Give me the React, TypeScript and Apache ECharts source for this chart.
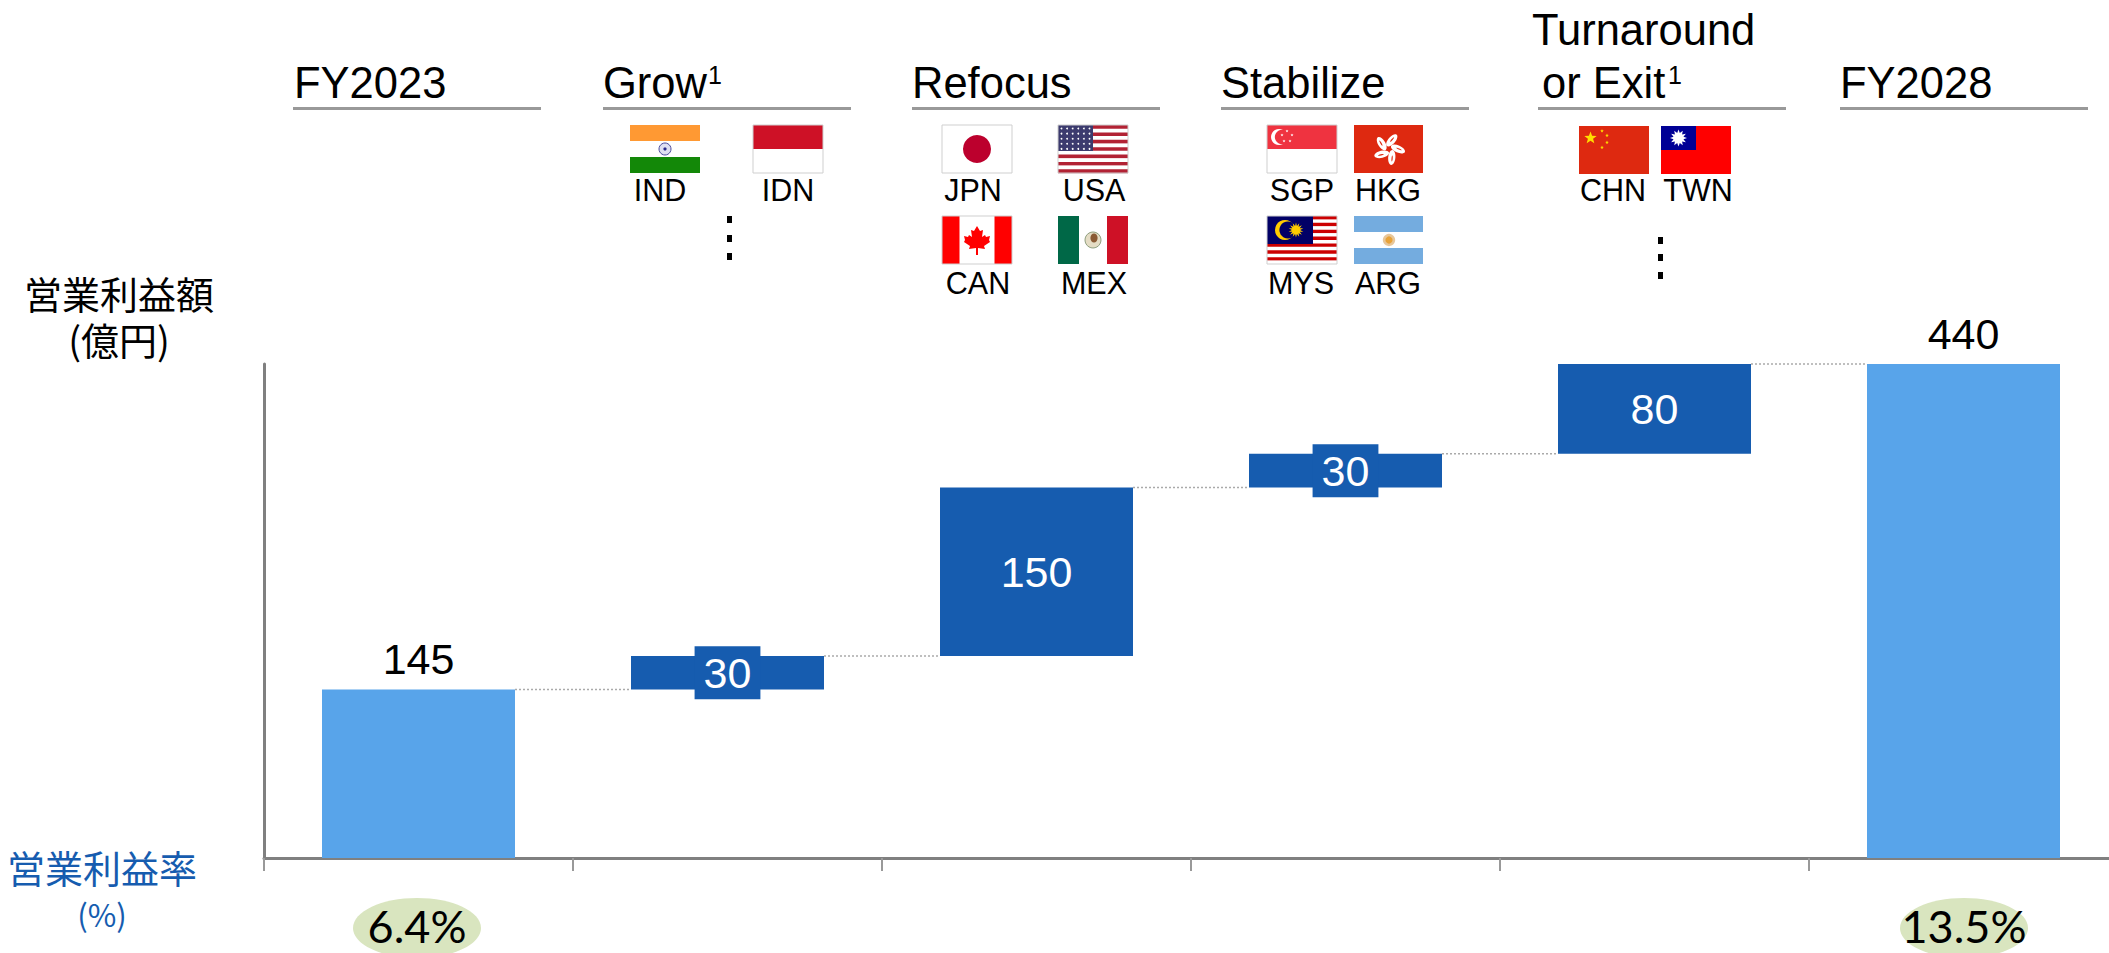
import React, { useEffect, useRef } from "react";
import * as echarts from "echarts";

const categories = ["FY2023", "Grow", "Refocus", "Stabilize", "Turnaround or Exit", "FY2028"];
// Bar heights as drawn in the picture (the first bar is drawn slightly taller than its printed label).
const drawnHeights = [150, 30, 150, 30, 80, 440];
const floatBases = [0, 150, 180, 330, 360, 0];
const printedLabels = ["145", "30", "150", "30", "80", "440"];
const connectorLevels = [150, 180, 330, 360, 440];
const marginLabels = ["6.4%", "13.5%"];
const LIGHT = "#58A4EA";
const DARK = "#165CAF";
const GREY = "#999999";
const SANS = '"Liberation Sans", Arial, sans-serif';
const CJK = '"Noto Sans CJK JP", sans-serif';
const BAR_W = 193;

const txt = (text: string, x: number, y: number, size: number, o: any = {}) => ({
  type: "text", x, y, silent: true, z: 10,
  style: {
    text, fontSize: size, fontFamily: o.font || SANS, fill: o.fill || "#000",
    fontWeight: "normal",
    ...(o.lineHeight ? { lineHeight: o.lineHeight } : {}),
    align: o.align || "left", textAlign: o.align || "left",
    verticalAlign: "middle", textVerticalAlign: "middle",
  },
});
const R = (x: number, y: number, width: number, height: number, fill: string) => ({
  type: "rect", silent: true, shape: { x, y, width, height }, style: { fill },
});
const C = (cx: number, cy: number, r: number, fill: string) => ({
  type: "circle", silent: true, shape: { cx, cy, r }, style: { fill },
});
const E = (cx: number, cy: number, rx: number, ry: number, fill: string, rotation = 0) => ({
  type: "ellipse", silent: true, x: cx, y: cy, rotation, shape: { cx: 0, cy: 0, rx, ry }, style: { fill },
});
const star = (cx: number, cy: number, r: number, fill: string, n = 5, inner = 0.42, rot = -Math.PI / 2) => {
  const pts: number[][] = [];
  for (let i = 0; i < n * 2; i++) {
    const a = rot + (i * Math.PI) / n;
    const rr = i % 2 ? r * inner : r;
    pts.push([cx + rr * Math.cos(a), cy + rr * Math.sin(a)]);
  }
  return { type: "polygon", silent: true, shape: { points: pts }, style: { fill } };
};
const frame = () => ({
  type: "rect", silent: true, shape: { x: 0, y: 0, width: 70, height: 48 },
  style: { fill: "none", stroke: "#cfcfcf", lineWidth: 1 },
});
const flag = (x: number, y: number, children: any[]) => ({ type: "group", x, y, silent: true, children });

const stripes = (n: number, hTotal: number, a: string, b: string) =>
  Array.from({ length: n }, (_, i) => R(0, (i * hTotal) / n, 70, hTotal / n + 0.2, i % 2 ? b : a));

const usaDots = () => {
  const out: any[] = [];
  for (let r = 0; r < 5; r++) for (let c = 0; c < 6; c++) out.push(C(3.5 + c * 5.6, 3.5 + r * 5.1, 0.9, "#fff"));
  return out;
};

const flagsGraphic = (): any[] => [
  flag(630, 125, [R(0, 0, 70, 16, "#FF9933"), R(0, 16, 70, 16, "#fff"), R(0, 32, 70, 16, "#138808"),
    { type: "circle", silent: true, shape: { cx: 35, cy: 24, r: 6 }, style: { fill: "#dfe0f2", stroke: "#4a4a9c", lineWidth: 1 } }, C(35, 24, 1.6, "#2a2a8c")]),
  flag(753, 125, [R(0, 0, 70, 24, "#CE1126"), R(0, 24, 70, 24, "#fff"), frame()]),
  flag(942, 125, [R(0, 0, 70, 48, "#fff"), C(35, 24, 14, "#BC002D"), frame()]),
  flag(1058, 125, [...stripes(13, 48, "#B22234", "#fff"), R(0, 0, 35, 26, "#3C3B6E"), ...usaDots(), frame()]),
  flag(942, 216, [R(0, 0, 70, 48, "#fff"), R(0, 0, 17.5, 48, "#FF0000"), R(52.5, 0, 17.5, 48, "#FF0000"),
    { type: "polygon", silent: true, shape: { points: [[35,10],[38,15],[41,14],[40,21],[43,19],[44,21],[48,20],[47,24],[48,26],[42,30],[43,33],[36,32],[36,39],[34,39],[34,32],[27,33],[28,30],[22,26],[23,24],[22,20],[26,21],[27,19],[30,21],[29,14],[32,15]] }, style: { fill: "#FF0000" } }, frame()]),
  flag(1058, 216, [R(0, 0, 21, 48, "#006847"), R(21, 0, 28, 48, "#fff"), R(49, 0, 21, 48, "#CE1126"),
    { type: "circle", silent: true, shape: { cx: 35, cy: 24, r: 8 }, style: { fill: "#e4dcc4", stroke: "#8f9f7f", lineWidth: 1 } }, E(36, 22, 3.6, 4.5, "#8a5a34")]),
  flag(1267, 125, [R(0, 0, 70, 24, "#EF3340"), R(0, 24, 70, 24, "#fff"), C(12, 12, 8, "#fff"), C(15, 12, 7.2, "#EF3340"),
    star(20, 6, 1.6, "#fff"), star(25, 10, 1.6, "#fff"), star(23, 16, 1.6, "#fff"), star(17, 16, 1.6, "#fff"), star(15, 10, 1.6, "#fff"), frame()]),
  flag(1354, 125, [R(0, 0, 69, 48, "#DE2910"),
    ...[0, 72, 144, 216, 288].map((d) => {
      const a = ((d - 72) * Math.PI) / 180;
      return E(35 + 9 * Math.cos(a), 24 + 9 * Math.sin(a), 7.5, 3.6, "#fff", -a - 0.4);
    }),
    ...[0, 72, 144, 216, 288].map((d) => {
      const a = ((d - 72) * Math.PI) / 180;
      return E(35 + 10 * Math.cos(a), 24 + 10 * Math.sin(a), 3, 0.6, "#DE2910", -a - 0.4);
    })]),
  flag(1267, 216, [...stripes(14, 48, "#CC0001", "#fff"), R(0, 0, 46, 28, "#010066"), C(18, 14, 10, "#FFCC00"), C(21, 14, 8.6, "#010066"),
    star(29, 14, 7.5, "#FFCC00", 14, 0.55), frame()]),
  flag(1354, 216, [R(0, 0, 69, 16, "#74ACDF"), R(0, 16, 69, 16, "#fff"), R(0, 32, 69, 16, "#74ACDF"), C(35, 24, 6.2, "#E8C79A"), C(35, 24, 3.6, "#E8A33A")]),
  flag(1579, 126, [R(0, 0, 70, 48, "#DE2910"), star(11.5, 12, 6.5, "#FFDE00"), star(23, 5, 1.9, "#FFDE00"), star(28, 9.5, 1.9, "#FFDE00"),
    star(28, 16.5, 1.9, "#FFDE00"), star(23, 21.5, 1.9, "#FFDE00")]),
  flag(1661, 126, [R(0, 0, 70, 48, "#FF0000"), R(0, 0, 35, 24, "#000095"), star(17.5, 12, 8.5, "#fff", 12, 0.6), C(17.5, 12, 4.6, "#fff")]),
];

const countryLabels: [string, number, number][] = [
  ["IND", 660, 190], ["IDN", 788, 190], ["JPN", 973, 190], ["USA", 1094, 190],
  ["CAN", 978, 283], ["MEX", 1094, 283], ["SGP", 1302, 190], ["HKG", 1388, 190],
  ["MYS", 1301, 283], ["ARG", 1388, 283], ["CHN", 1613, 190], ["TWN", 1698, 190],
];

const headerRules: [number, number][] = [[293, 541], [603, 851], [912, 1160], [1221, 1469], [1538, 1786], [1840, 2088]];

const graphics = (): any[] => [
  ...headerRules.map(([a, b]) => R(a, 107, b - a, 3, GREY)),
  txt("FY2023", 294, 83, 43.5),
  txt("Grow", 603, 83, 43.5),
  txt("1", 708, 75, 25),
  txt("Refocus", 912, 83, 43.5),
  txt("Stabilize", 1221, 83, 43.5),
  txt("Turnaround", 1532, 30, 43.5),
  txt("or Exit", 1542, 83, 43.5),
  txt("1", 1668, 75, 25),
  txt("FY2028", 1840, 83, 43.5),
  ...flagsGraphic(),
  ...countryLabels.map(([t, x, y]) => txt(t, x, y, 30.5, { align: "center" })),
  ...[216, 235, 253].map((y) => R(727, y, 5, 7, "#000")),
  ...[237, 254, 272].map((y) => R(1658, y, 5, 7, "#000")),
  txt("営業利益額\n(億円)", 119, 315, 38, { align: "center", font: CJK, lineHeight: 46 }),
  txt("営業利益率", 102, 866, 38, { align: "center", font: CJK, fill: DARK }),
  txt("(%)", 102, 913, 31, { align: "center", font: CJK, fill: DARK }),
  E(417, 928, 64, 30, "#D9E5BF"),
  E(1964, 928, 64, 30, "#D9E5BF"),
  txt(marginLabels[0], 417, 926, 45, { align: "center", font: "Lato, sans-serif" }),
  txt(marginLabels[1], 1964, 926, 45, { align: "center", font: "Lato, sans-serif" }),
];

export default function App() {
  const ref = useRef<HTMLDivElement>(null);
  useEffect(() => {
    const chart = echarts.init(ref.current!, undefined, { renderer: "svg" });
    const last = categories.length - 1;
    chart.setOption({
      animation: false,
      backgroundColor: "#fff",
      grid: { left: 264, top: 364, width: 1854, height: 494, containLabel: false },
      xAxis: {
        type: "category",
        data: categories,
        axisLine: { show: true, lineStyle: { color: "#808080", width: 3 } },
        axisTick: { show: true, length: 13, lineStyle: { color: GREY, width: 2 } },
        axisLabel: { show: false },
        splitLine: { show: false },
      },
      yAxis: {
        type: "value", min: 0, max: 440,
        axisLine: { show: true, lineStyle: { color: "#808080", width: 3 } },
        axisTick: { show: false },
        axisLabel: { show: false },
        splitLine: { show: false },
      },
      series: [
        {
          type: "bar", stack: "w", barWidth: BAR_W, silent: true,
          data: floatBases,
          itemStyle: { color: "transparent" },
          label: { show: false },
        },
        {
          type: "bar", stack: "w", barWidth: BAR_W, silent: true,
          data: drawnHeights.map((v, i) => {
            const isEnd = i === 0 || i === last;
            const isSmall = v === 30;
            return {
              value: v,
              itemStyle: { color: isEnd ? LIGHT : DARK },
              label: {
                show: true,
                formatter: printedLabels[i],
                position: isEnd ? "top" : "inside",
                distance: 9,
                fontFamily: SANS,
                fontSize: 43,
                color: isEnd ? "#000" : "#fff",
                ...(isSmall ? { backgroundColor: DARK, padding: [5, 9, 5, 9] } : {}),
              },
            };
          }),
        },
        {
          type: "custom", silent: true, z: 1,
          data: connectorLevels.map((y, i) => [i, y]),
          encode: { x: 0, y: 1 },
          renderItem: (_: any, api: any) => {
            const i = api.value(0);
            const y = api.value(1);
            const a = api.coord([i, y]);
            const b = api.coord([i + 1, y]);
            return {
              type: "line",
              shape: { x1: a[0] + BAR_W / 2, y1: a[1], x2: b[0] - BAR_W / 2, y2: b[1] },
              style: { stroke: "#aaaaaa", lineWidth: 1.5, lineDash: [2, 2], fill: "none" },
            };
          },
        },
      ],
      graphic: { elements: graphics() },
    });
    return () => chart.dispose();
  }, []);
  return (
    <div style={{ position: "absolute", left: 0, top: 0, width: 2109, height: 953, overflow: "hidden" }}>
      <div ref={ref} style={{ width: 2125, height: 953 }} />
    </div>
  );
}
